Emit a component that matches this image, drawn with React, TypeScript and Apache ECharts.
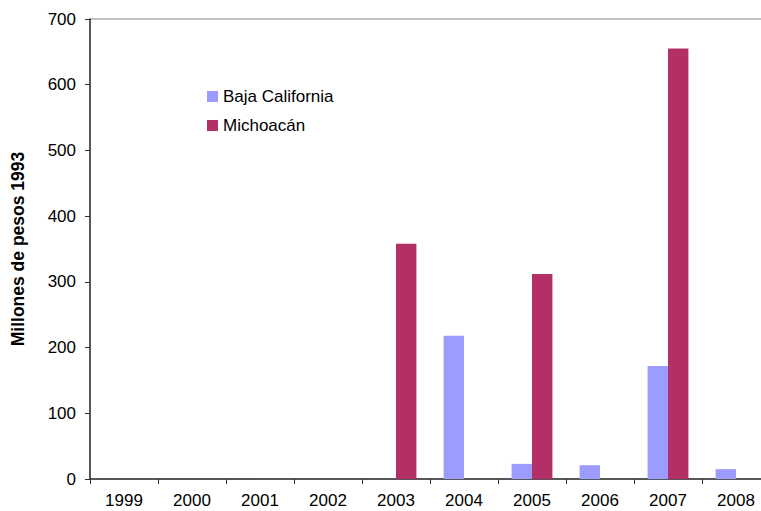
import React, { useEffect, useRef } from "react";
import * as echarts from "echarts";

const years = ["1999", "2000", "2001", "2002", "2003", "2004", "2005", "2006", "2007", "2008"];
const bajaCalifornia = [0, 0, 0, 0, 0, 218, 23, 21, 172, 15];
const michoacan = [0, 0, 0, 0, 358, 0, 312, 0, 655, 0];
const yTicks = { min: 0, max: 700, interval: 100 };

const FONT = "'Liberation Sans', Arial, sans-serif";

export default function App() {
  const ref = useRef<HTMLDivElement>(null);

  useEffect(() => {
    if (!ref.current) return;
    const chart = echarts.init(ref.current, null, { renderer: "svg" });
    chart.setOption({
      animation: false,
      backgroundColor: "#ffffff",
      textStyle: { fontFamily: FONT },
      grid: {
        left: 90,
        top: 19,
        bottom: 32,
        width: 680,
        outerBoundsMode: "none",
        containLabel: false,
        show: true,
        borderColor: "#888888",
        borderWidth: 1,
        backgroundColor: "transparent",
      },
      legend: {
        orient: "vertical",
        left: 202,
        top: 83,
        itemWidth: 11,
        itemHeight: 11,
        itemGap: 12,
        icon: "rect",
        textStyle: { fontSize: 17, color: "#000", fontFamily: FONT, lineHeight: 17 },
        data: ["Baja California", "Michoacán"],
      },
      xAxis: {
        type: "category",
        data: years,
        boundaryGap: true,
        axisLine: { lineStyle: { color: "#333", width: 1.5 } },
        axisTick: { show: true, length: 5, inside: false, lineStyle: { color: "#333" } },
        axisLabel: { color: "#000", fontSize: 17, margin: 13, fontFamily: FONT },
        splitLine: { show: false },
      },
      yAxis: {
        type: "value",
        min: yTicks.min,
        max: yTicks.max,
        interval: yTicks.interval,
        name: "Millones de pesos 1993",
        nameLocation: "middle",
        nameGap: 63,
        nameTextStyle: { fontSize: 17.5, fontWeight: "bold", color: "#000", fontFamily: FONT },
        axisLine: { show: true, lineStyle: { color: "#333", width: 1.5 } },
        axisTick: { show: true, length: 5, inside: false, lineStyle: { color: "#333" } },
        axisLabel: { color: "#000", fontSize: 17, margin: 14, fontFamily: FONT },
        splitLine: { show: false },
      },
      series: [
        {
          name: "Baja California",
          type: "bar",
          data: bajaCalifornia,
          barWidth: "30%",
          barGap: "0%",
          itemStyle: { color: "#9c9cff" },
        },
        {
          name: "Michoacán",
          type: "bar",
          data: michoacan,
          barWidth: "30%",
          barGap: "0%",
          itemStyle: { color: "#b33066" },
        },
      ],
    });
    return () => chart.dispose();
  }, []);

  return <div ref={ref} style={{ width: 761, height: 511, position: "absolute", left: 0, top: 0 }} />;
}
